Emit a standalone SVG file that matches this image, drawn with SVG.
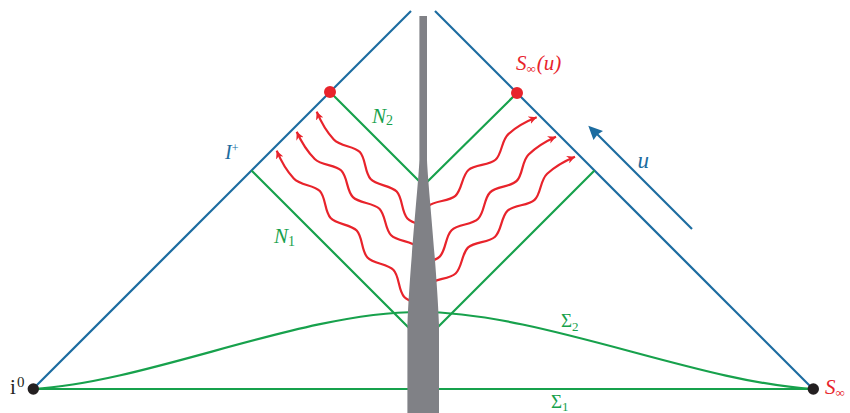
<svg xmlns="http://www.w3.org/2000/svg" width="850" height="413" viewBox="0 0 850 413">
<defs>
<style>
.blue{stroke:#1c6ca0;stroke-width:2.2;fill:none}
.green{stroke:#17a14c;stroke-width:2.2;fill:none}
.wave{stroke:#e8232b;stroke-width:2.2;fill:none;marker-start:url(#ah)}
text{font-family:"Liberation Serif","DejaVu Serif","Times New Roman",serif}
.it{font-style:italic}
.cb{fill:#1c6ca0}
.cg{fill:#17a14c}
.cr{fill:#e8232b}
</style>
<marker id="ah" viewBox="0 0 10 10" refX="10" refY="5" markerWidth="8" markerHeight="8" markerUnits="userSpaceOnUse" orient="auto-start-reverse">
<path d="M0,0 L10,5 L0,10 L3,5 Z" fill="#e8232b"/>
</marker>
<path id="w1" class="wave" d="M0,0 C8,3 22,6.5 32,6.5 S50,-4 59,-4 S77,6.5 86,6.5 S104,-4 113,-4 S131,6.5 140,6.5 C144.5,6.5 149,3.9 153.5,1.2"/>
<path id="w2" class="wave" d="M0,0 C8,3 22,6.5 32,6.5 S50,-4 59,-4 S77,6.5 86,6.5 S104,-4 113,-4 S131,6.5 140,6.5 S158,-4 167,-4 C171.5,-4 176,-1.4 180.5,1.2"/>
<path id="w3" class="wave" d="M0,0 C8,3 22,6.5 32,6.5 S50,-4 59,-4 S77,6.5 86,6.5 S104,-4 113,-4 S131,6.5 140,6.5 S158,-4 167,-4 S185,6.5 194,6.5 C198.5,6.5 203,3.9 207.5,1.2"/>
</defs>

<g id="connectors">
<g id="scri-left"><line class="blue" x1="33" y1="389" x2="411" y2="11"/></g>
<g id="scri-right"><line class="blue" x1="435" y1="11" x2="813" y2="389"/></g>
<g id="N1"><polyline class="green" points="251.5,170.5 423,342 594.5,170.5"/></g>
<g id="N2"><polyline class="green" points="330,92 423.5,185.5 517,93"/></g>
<g id="Sigma1"><line class="green" x1="33" y1="389" x2="813" y2="389" stroke-width="2.5"/></g>
<g id="Sigma2"><path class="green" d="M33,389 C150,382 300,312 420,312 C540,312 696,382 813,389"/></g>
<g id="u-arrow">
<line class="blue" x1="692" y1="229" x2="597" y2="134"/>
<polygon class="cb" points="588.3,125.7 603,131 597.5,134.5 593.5,140"/>
</g>
</g>

<g id="radiation">
<use href="#w3" transform="translate(276.7,150.7) rotate(47)"/>
<use href="#w2" transform="translate(296.7,131.7) rotate(45)"/>
<use href="#w1" transform="translate(316.7,111.7) rotate(47)"/>
<use href="#w1" transform="translate(536.7,117.3) rotate(138)"/>
<use href="#w2" transform="translate(556,136.7) rotate(135.5)"/>
<use href="#w3" transform="translate(575,156.7) rotate(137)"/>
</g>

<g id="source">
<path fill="#808186" d="M419.4,16 L427,16 L427,160 C428,185 437,270 439,325 L439,413 L407.4,413 L407.4,325 C409.4,270 418.4,185 419.4,160 Z"/>
</g>

<g id="points">
<g id="i0-dot"><circle cx="33.3" cy="389" r="5.7" fill="#231f20"/></g>
<g id="Sinf-dot"><circle cx="813.3" cy="389" r="5.7" fill="#231f20"/></g>
<g id="red-dot-left"><circle cx="330" cy="92" r="6" fill="#e8232b"/></g>
<g id="red-dot-right"><circle cx="517" cy="93" r="6" fill="#e8232b"/></g>
</g>

<g id="labels">
<text x="10" y="394" font-family="Liberation Serif, serif" font-size="21" fill="#231f20">i<tspan x="17" y="387" font-size="15">0</tspan></text>
<text x="825" y="394" font-family="Liberation Serif, serif" font-size="21" class="cr it">S<tspan y="397" font-size="13" font-style="normal">∞</tspan></text>
<text x="516" y="70" font-family="Liberation Serif, serif" font-size="21" class="cr it">S<tspan y="73" font-size="13" font-style="normal">∞</tspan><tspan y="70" dx="1">(u)</tspan></text>
<text x="225" y="158.5" font-family="Liberation Serif, serif" font-size="20" class="cb it">I<tspan y="152" font-size="12" font-style="normal">+</tspan></text>
<text x="372" y="123" font-family="Liberation Serif, serif" font-size="21" class="cg it">N<tspan y="125" font-size="14" font-style="normal">2</tspan></text>
<text x="274" y="242.5" font-family="Liberation Serif, serif" font-size="21" class="cg it">N<tspan y="246" font-size="14" font-style="normal">1</tspan></text>
<text x="637.5" y="168.3" font-family="Liberation Serif, serif" font-size="23" class="cb it">u</text>
<text x="561" y="326.7" font-family="Liberation Serif, serif" font-size="19" class="cg">Σ<tspan y="331" font-size="13">2</tspan></text>
<text x="551" y="407.5" font-family="Liberation Serif, serif" font-size="19" class="cg">Σ<tspan y="411" font-size="13">1</tspan></text>
</g>
</svg>
